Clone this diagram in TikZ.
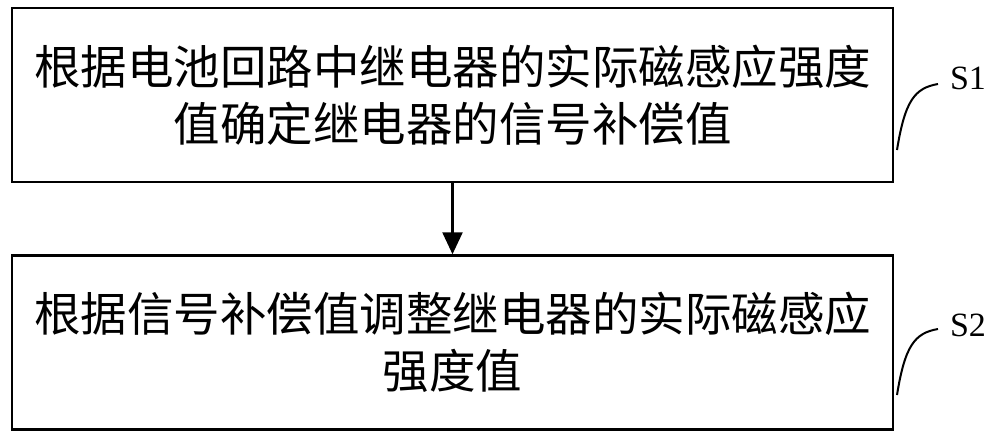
\documentclass[tikz,border=0pt]{standalone}
\usetikzlibrary{arrows.meta}
\usepackage{fontspec}
\newfontfamily\cjk{Noto Sans CJK SC}
\setmainfont{Liberation Serif}
\begin{document}
\begin{tikzpicture}[x=1pt,y=-1pt,
 stepbox/.style={draw,line width=2.5pt,minimum width=881pt,minimum height=174pt,inner sep=0pt,align=center,font=\cjk\fontsize{46.5}{57}\selectfont},
 lab/.style={font=\fontsize{34}{38}\selectfont}]
\useasboundingbox (0,0) rectangle (1000,440);
\node[stepbox] (b1) at (452.5,95) {根据电池回路中继电器的实际磁感应强度\\值确定继电器的信号补偿值};
\node[stepbox] (b2) at (452.5,342.5) {根据信号补偿值调整继电器的实际磁感应\\强度值};
\draw[line width=2.5pt,-{Triangle[length=22pt,width=20pt]}] (b1.south) -- (b2.north);
\node[lab] (s1) at (968,78) {S1};
\node[lab] (s2) at (968,325) {S2};
\coordinate (h1) at (897,150);
\coordinate (h2) at (897,395);
\draw[line width=2pt] (h1) .. controls (905,100) and (915,88) .. (938,84);
\draw[line width=2pt] (h2) .. controls (905,345) and (915,333) .. (938,329);
\end{tikzpicture}
\end{document}
